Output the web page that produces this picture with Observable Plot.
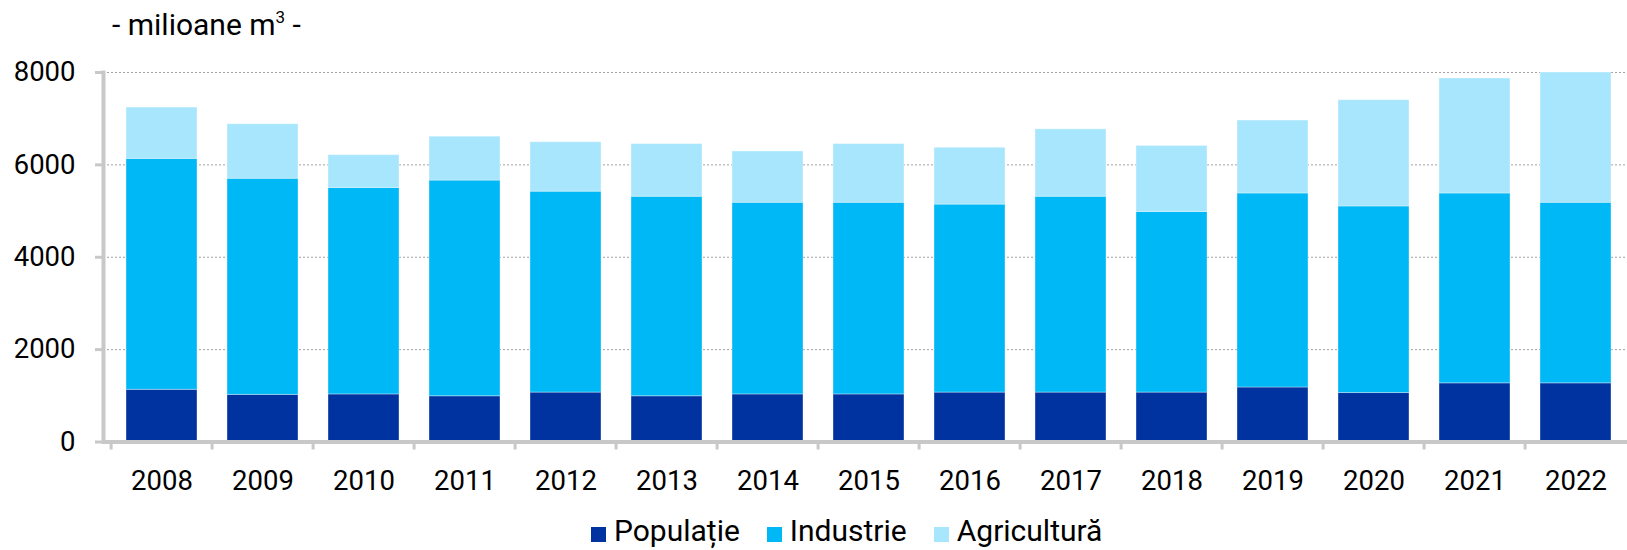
<!DOCTYPE html>
<html><head><meta charset="utf-8">
<script src="https://cdn.jsdelivr.net/npm/d3@7"></script>
<script src="https://cdn.jsdelivr.net/npm/@observablehq/plot@0.6"></script>
<style>
body{margin:0;background:#fff;font-family:Roboto,sans-serif;}
#wrap{position:relative;width:1627px;height:550px;overflow:hidden;}
#chart{position:absolute;left:0;top:0;}
#title{position:absolute;left:112px;top:10px;font-size:30px;line-height:30px;color:#000;white-space:pre;}
#title sup{font-size:17px;line-height:0;position:relative;top:-1px;}
#legend{position:absolute;left:591px;top:516px;height:30px;display:flex;align-items:flex-start;font-size:30px;line-height:30px;color:#000;}
#legend .it{display:flex;align-items:flex-start;margin-right:27px;}
#legend .sw{width:15px;height:15px;margin-top:11px;margin-right:8px;}
</style></head><body>
<div id="wrap"><div id="chart"></div><div id="title">- milioane m<sup>3</sup> -</div><div id="legend"></div></div>
<script>
const years = ["2008","2009","2010","2011","2012","2013","2014","2015","2016","2017","2018","2019","2020","2021","2022"];
const seriesNames = ["Populație","Industrie","Agricultură"];
const seriesColors = ["#0033a0","#00b8f5","#a8e6fd"];
const populatie   = [1130,1020,1030,990,1070,990,1030,1030,1070,1070,1070,1180,1060,1270,1270];
const industrie   = [5000,4680,4470,4670,4350,4320,4150,4150,4070,4240,3910,4200,4040,4110,3910];
const agricultura = [1110,1180,710,950,1070,1140,1110,1270,1230,1460,1430,1580,2300,2490,2820];
const yTicks = [0,2000,4000,6000,8000];
const gridTicks = [2000,4000,6000,8000];

const seriesValues = [populatie, industrie, agricultura];
const table = [];
years.forEach((yr, i) => seriesNames.forEach((s, k) => table.push({year: yr, series: s, value: seriesValues[k][i]})));

const W = 1627, H = 500;
const xRange = [105, 1632];
const step = (xRange[1] - xRange[0]) / years.length;
const axisGrey = "#c8c8c8";

const chart = Plot.plot({
  width: W, height: H,
  marginTop: 72, marginBottom: 58.5, marginLeft: 103, marginRight: 0,
  style: {fontFamily: "Roboto, sans-serif", background: "white", color: "#000"},
  x: {type: "band", domain: years, range: xRange, paddingInner: 0.293, paddingOuter: 0.1465, align: 0.5, label: null},
  y: {domain: [0, 8000], label: null},
  color: {domain: seriesNames, range: seriesColors},
  marks: [
    Plot.gridY(gridTicks, {stroke: "#a0a0a0", strokeOpacity: 1, strokeWidth: 1, strokeDasharray: "2,2"}),
    Plot.barY(table, {x: "year", y: "value", fill: "series", stroke: "white", strokeOpacity: 0.35, strokeWidth: 1}),
    Plot.ruleY([0], {stroke: axisGrey, strokeWidth: 4}),
    Plot.frame({anchor: "left", stroke: axisGrey, strokeWidth: 4}),
    Plot.axisY(yTicks, {tickSize: 8, tickPadding: 20, fontSize: 27.5, tickFormat: d => String(d), stroke: axisGrey, strokeWidth: 3, fill: "#000", label: null}),
    Plot.axisX({tickSize: 0, tickPadding: 28, fontSize: 27.5, fill: "#000", label: null}),
    Plot.axisX({tickSize: 8, tickFormat: () => "", dx: -step / 2, stroke: axisGrey, strokeWidth: 3, label: null})
  ]
});
document.getElementById("chart").appendChild(chart);

const legend = document.getElementById("legend");
seriesNames.forEach((s, k) => {
  const it = document.createElement("div"); it.className = "it";
  const sw = document.createElement("div"); sw.className = "sw"; sw.style.background = seriesColors[k];
  const tx = document.createElement("span"); tx.textContent = s;
  it.appendChild(sw); it.appendChild(tx); legend.appendChild(it);
});
</script></body></html>
